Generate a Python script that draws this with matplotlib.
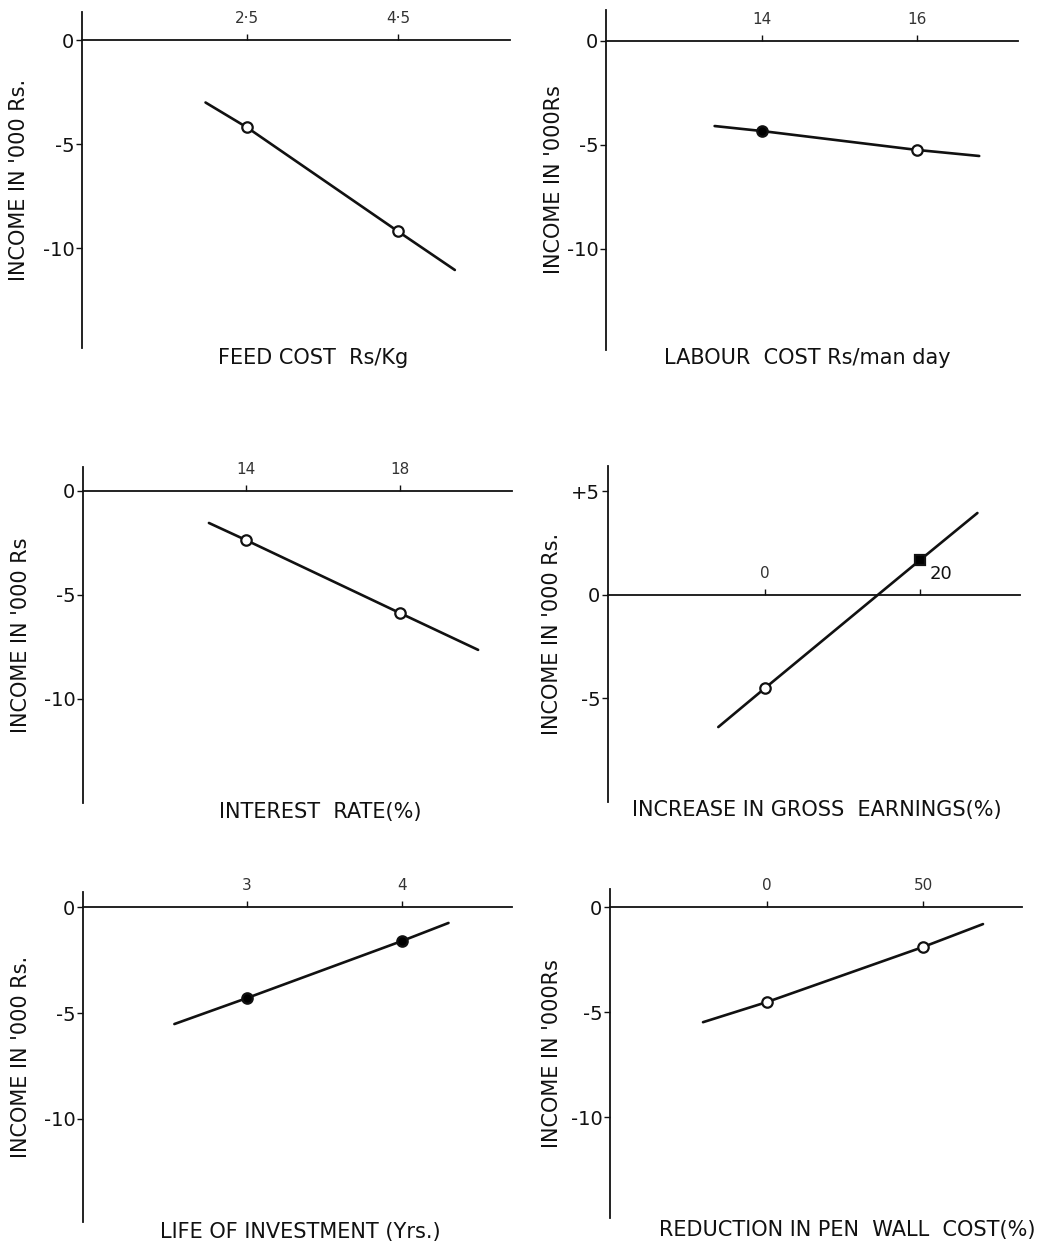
import matplotlib
matplotlib.use("Agg")
import matplotlib.pyplot as plt
from matplotlib.transforms import ScaledTranslation

plt.rcParams['font.family'] = ['DejaVu Sans']
plt.rcParams['axes.unicode_minus'] = False

# ---------------- data ----------------
feed_x = [2.5, 4.5]
feed_y = [-4.2, -9.2]
feed_line_x = [1.95, 5.25]
feed_line_y = [-3.0, -11.05]
feed_ticklabels = ["2·5", "4·5"]

labour_x = [14, 16]
labour_y = [-4.33, -5.24]
labour_line_x = [13.39, 16.8]
labour_line_y = [-4.09, -5.53]
labour_ticklabels = ["14", "16"]

interest_x = [14, 18]
interest_y = [-2.36, -5.87]
interest_line_x = [13.04, 20.03]
interest_line_y = [-1.54, -7.64]
interest_ticklabels = ["14", "18"]

gross_x = [0, 20]
gross_y = [-4.49, 1.69]
gross_line_x = [-6.06, 27.4]
gross_line_y = [-6.38, 3.96]
gross_ticklabels = ["0", "20"]

life_x = [3, 4]
life_y = [-4.29, -1.60]
life_line_x = [2.53, 4.30]
life_line_y = [-5.52, -0.75]
life_ticklabels = ["3", "4"]

wall_x = [0, 50]
wall_y = [-4.52, -1.90]
wall_line_x = [-20.5, 69.2]
wall_line_y = [-5.48, -0.81]
wall_ticklabels = ["0", "50"]

xlabels = ["FEED COST  Rs/Kg", "LABOUR  COST Rs/man day", "INTEREST  RATE(%)",
           "INCREASE IN GROSS  EARNINGS(%)", "LIFE OF INVESTMENT (Yrs.)",
           "REDUCTION IN PEN  WALL  COST(%)"]
ylabels = ["INCOME IN '000 Rs.", "INCOME IN '000Rs", "INCOME IN '000 Rs",
           "INCOME IN '000 Rs.", "INCOME IN '000 Rs.", "INCOME IN '000Rs"]
yticks_neg = [0, -5, -10]
yticklabels_neg = ["0", "-5", "-10"]
yticks_gross = [5, 0, -5]
yticklabels_gross = ["+5", "0", "-5"]

# ---------------- layout ----------------
W, H = 1047, 1247
fig = plt.figure(figsize=(W / 100, H / 100), dpi=100)
fig.patch.set_facecolor('white')

panels = [
    dict(px=(82, 510, 12, 348), xlim=(0.315, 5.98), ylim=(-14.8, 1.35),
         x=feed_x, y=feed_y, lx=feed_line_x, ly=feed_line_y, tl=feed_ticklabels,
         mk=[('o', 'white'), ('o', 'white')], yt=yticks_neg, ytl=yticklabels_neg,
         xl=(313, 358), yl=(20, 205)),
    dict(px=(606, 1018, 10, 350), xlim=(11.99, 17.30), ylim=(-14.86, 1.49),
         x=labour_x, y=labour_y, lx=labour_line_x, ly=labour_line_y, tl=labour_ticklabels,
         mk=[('o', 'black'), ('o', 'white')], yt=yticks_neg, ytl=yticklabels_neg,
         xl=(807, 358), yl=(555, 204)),
    dict(px=(83, 512, 467, 803), xlim=(9.77, 20.91), ylim=(-15.0, 1.15),
         x=interest_x, y=interest_y, lx=interest_line_x, ly=interest_line_y, tl=interest_ticklabels,
         mk=[('o', 'white'), ('o', 'white')], yt=yticks_neg, ytl=yticklabels_neg,
         xl=(320, 812), yl=(22, 644)),
    dict(px=(608, 1020, 466, 802), xlim=(-20.3, 32.9), ylim=(-10.0, 6.23),
         x=gross_x, y=gross_y, lx=gross_line_x, ly=gross_line_y, tl=gross_ticklabels,
         mk=[('o', 'white'), ('s', 'black')], yt=yticks_gross, ytl=yticklabels_gross,
         xl=(817, 810), yl=(553, 643)),
    dict(px=(83, 512, 892, 1222), xlim=(1.94, 4.71), ylim=(-14.86, 0.71),
         x=life_x, y=life_y, lx=life_line_x, ly=life_line_y, tl=life_ticklabels,
         mk=[('o', 'black'), ('o', 'black')], yt=yticks_neg, ytl=yticklabels_neg,
         xl=(300, 1232), yl=(22, 1067)),
    dict(px=(610, 1022, 889, 1218), xlim=(-50.3, 81.7), ylim=(-14.8, 0.86),
         x=wall_x, y=wall_y, lx=wall_line_x, ly=wall_line_y, tl=wall_ticklabels,
         mk=[('o', 'white'), ('o', 'white')], yt=yticks_neg, ytl=yticklabels_neg,
         xl=(847, 1230), yl=(553, 1072)),
]

ink = '#111111'
for i, p in enumerate(panels):
    l, r, t, b = p['px']
    ax = fig.add_axes([l / W, 1 - b / H, (r - l) / W, (b - t) / H])
    ax.set_facecolor('none')
    ax.set_xlim(*p['xlim'])
    ax.set_ylim(*p['ylim'])
    for s in ['right', 'bottom']:
        ax.spines[s].set_visible(False)
    ax.spines['top'].set_position(('data', 0))
    ax.spines['top'].set_linewidth(1.3)
    ax.spines['left'].set_linewidth(1.3)
    ax.spines['top'].set_color(ink)
    ax.spines['left'].set_color(ink)

    ax.xaxis.set_ticks_position('top')
    ax.set_xticks(p['x'])
    ax.set_xticklabels(p['tl'])
    ax.tick_params(axis='x', direction='out', length=4, width=1.0, pad=6,
                   labelsize=11, colors=ink, labelcolor='#333333')
    ax.set_yticks(p['yt'])
    ax.set_yticklabels(p['ytl'])
    ax.tick_params(axis='y', direction='out', length=4, width=1.0, pad=1.5,
                   labelsize=14, colors=ink)

    if i == 3:
        # the "20" label sits to the right of its tick
        lab = ax.get_xticklabels()[1]
        lab.set_transform(lab.get_transform() + ScaledTranslation(0.21, -0.02, fig.dpi_scale_trans))
        lab.set_fontsize(13)
        lab.set_color(ink)

    # line through the data points and its extensions
    xs = [p['lx'][0]] + list(p['x']) + [p['lx'][1]]
    ys = [p['ly'][0]] + list(p['y']) + [p['ly'][1]]
    ax.plot(xs, ys, color=ink, lw=1.9, solid_capstyle='round', zorder=3, clip_on=False)
    for (xv, yv, (m, fc)) in zip(p['x'], p['y'], p['mk']):
        ax.plot([xv], [yv], marker=m, ms=7.5, mfc=fc, mec=ink, mew=1.6,
                linestyle='none', zorder=4, clip_on=False)

    # labels
    lx, ly = p['yl']
    ax.yaxis.set_label_coords((lx + 9 - l) / (r - l), (b - ly) / (b - t))
    ax.set_ylabel(ylabels[i], fontsize=15, color=ink)
    fx, fy = p['xl']
    fig.text(fx / W, 1 - fy / H, xlabels[i], fontsize=15, color=ink,
             ha='center', va='center')

fig.savefig('out.png', dpi=100, facecolor='white')
